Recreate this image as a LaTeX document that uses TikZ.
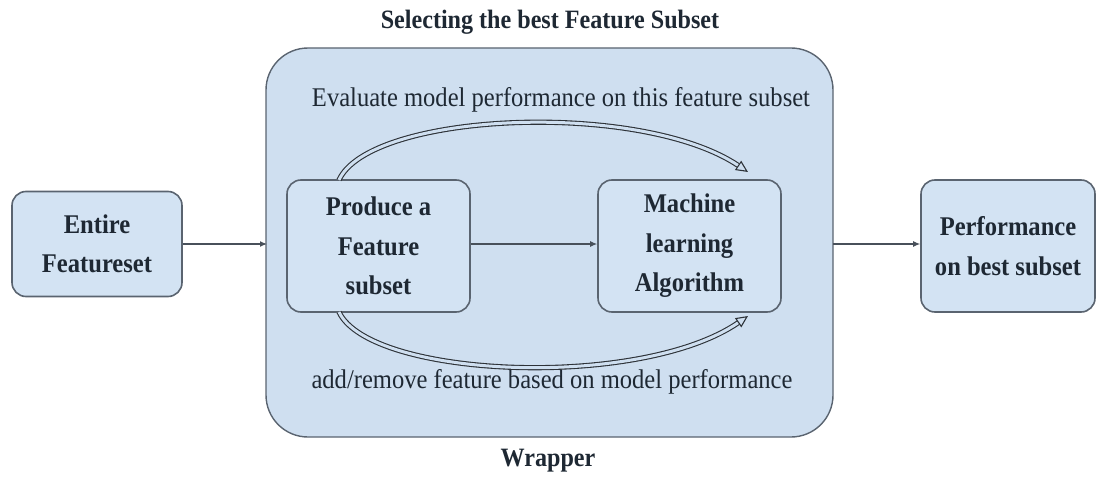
\documentclass[tikz,border=0pt]{standalone}
\usepackage{fontspec}
\setmainfont{LiberationSerif}[Extension=.ttf, UprightFont=*-Regular, BoldFont=*-Bold, ItalicFont=*-Italic, BoldItalicFont=*-BoldItalic]
\newfontfamily\condserif{LiberationSerif}[Extension=.ttf, UprightFont=*-Regular, BoldFont=*-Bold, FakeStretch=0.91]
\usetikzlibrary{arrows.meta}
\definecolor{boxfill}{HTML}{D3E3F3}
\definecolor{wrapfill}{HTML}{CFDFF0}
\definecolor{edgegray}{HTML}{5A6470}
\definecolor{txt}{HTML}{1E2833}
\tikzset{
  stagebox/.style={draw=edgegray, line width=1.6pt, fill=boxfill, rounded corners=14pt,
    align=center, font=\condserif\fontsize{27}{39.5}\selectfont\bfseries, text=txt, inner sep=0pt},
  flow/.style={draw=edgegray!80!black, line width=1.2pt, -{Latex[length=7pt,width=6pt]}},
  loop/.style={draw=edgegray!50!black, line width=1.1pt, double=wrapfill, double distance=3pt,
    -{Triangle[open, length=12pt, width=11pt, fill=wrapfill]}},
  lbl/.style={font=\condserif\fontsize{27}{30}\selectfont, text=txt, inner sep=0pt},
  head/.style={font=\condserif\fontsize{26.5}{30}\selectfont\bfseries, text=txt, inner sep=0pt}
}
\begin{document}
\begin{tikzpicture}[x=1pt, y=-1pt]
\useasboundingbox (0,0) rectangle (1099,476);
\draw[draw=edgegray, line width=1.4pt, fill=wrapfill, rounded corners=42pt] (266,48) rectangle (833,437);
\node[head] (title) at (550,22) {Selecting the best Feature Subset};
\node[head] (wrap) at (548,461) {Wrapper};
\node[stagebox, minimum width=170pt, minimum height=105pt] (entire) at (97,244) {Entire\\Featureset};
\node[stagebox, minimum width=183pt, minimum height=132pt] (produce) at (378.5,246) {Produce a\\Feature\\subset};
\node[stagebox, minimum width=183pt, minimum height=132pt] (ml) at (689.5,246) {Machine\\learning\\Algorithm};
\node[stagebox, minimum width=174pt, minimum height=132pt] (perf) at (1008,246) {Performance\\on best subset};
\coordinate (wl) at (267,244);
\coordinate (wr) at (833,244);
\draw[flow] (entire.east |- wl) -- (wl);
\draw[flow] (produce.east |- wl) -- (ml.west |- wl);
\draw[flow] (wr) -- (perf.west |- wr);
\node[lbl] (eval) at (561,100) {Evaluate model performance on this feature subset};
\node[lbl] (addrem) at (552,382) {add/remove feature based on model performance};
\coordinate (ts) at (339,180);
\coordinate (te) at (748,172);
\coordinate (bs) at (339,312);
\coordinate (be) at (748,316);
\draw[loop] (ts) .. controls (370,112) and (640,100) .. (te);
\draw[loop] (bs) .. controls (370,378) and (640,390) .. (be);
\end{tikzpicture}
\end{document}
